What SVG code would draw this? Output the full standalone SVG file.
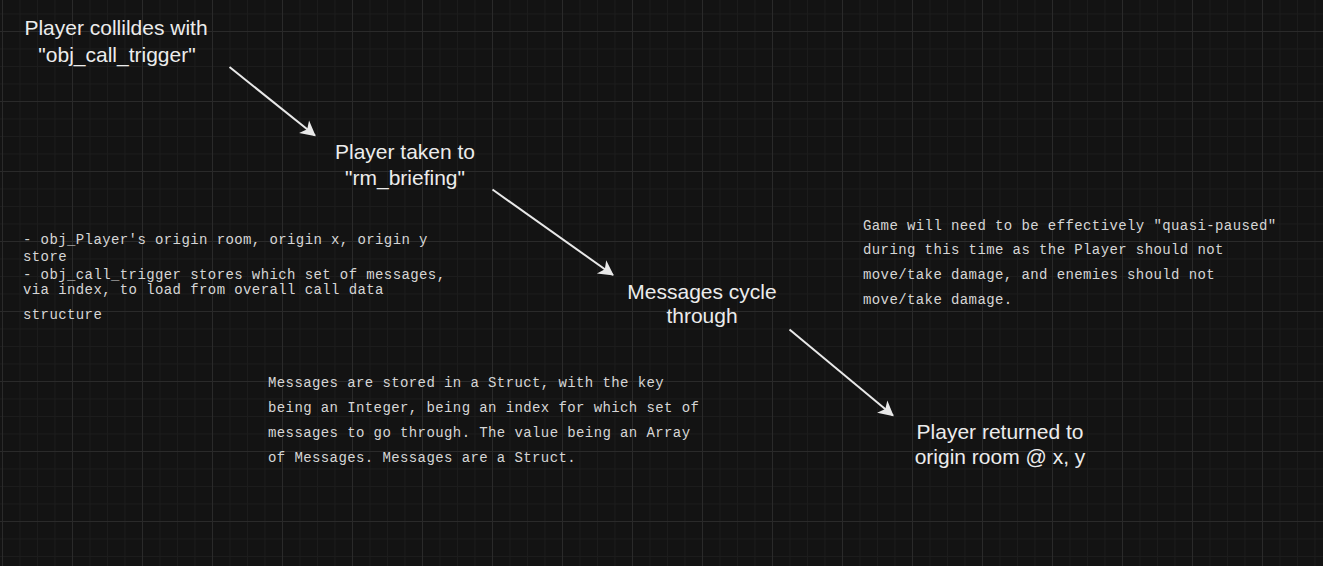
<svg xmlns="http://www.w3.org/2000/svg" width="1323" height="566" viewBox="0 0 1323 566">
<defs>
<pattern id="grid" patternUnits="userSpaceOnUse" x="2" y="31" width="70" height="70">
<path d="M18 0V70M35.5 0V70M53 0V70M0 18H70M0 35.5H70M0 53H70" stroke="#1c1c1c" stroke-width="1" fill="none"/>
<path d="M0.5 0V70M0 0.5H70" stroke="#2a2a2a" stroke-width="1" fill="none"/>
</pattern>
<marker id="arrow" markerUnits="userSpaceOnUse" markerWidth="30" markerHeight="30" refX="0" refY="0" viewBox="-20 -15 30 30" orient="auto" overflow="visible">
<path d="M1,0 L-14,-8 L-10,0 L-14,8 Z" fill="#e8e8e8"/>
</marker>
<style>
.lbl{font-family:"Liberation Sans",Arial,sans-serif;font-size:21px;fill:#ececec;text-anchor:middle}
.mono{font-family:"Liberation Mono","Courier New",monospace;font-size:14px;letter-spacing:0.4px;fill:#d6d6d6}
.conn{stroke:#e8e8e8;stroke-width:2;fill:none;marker-end:url(#arrow)}
</style>
</defs>
<rect width="1323" height="566" fill="#131313"/>
<rect width="1323" height="566" fill="url(#grid)"/>
<g id="connectors">
<line class="conn" x1="229.5" y1="67" x2="315" y2="135.5"/>
<line class="conn" x1="492.5" y1="189.5" x2="613" y2="275"/>
<line class="conn" x1="789.5" y1="329.5" x2="893" y2="415.5"/>
</g>
<g id="node-collide">
<text class="lbl" x="116" y="35">Player collildes with</text>
<text class="lbl" x="117" y="62">"obj_call_trigger"</text>
</g>
<g id="node-taken">
<text class="lbl" x="405" y="158.5">Player taken to</text>
<text class="lbl" x="405" y="185">"rm_briefing"</text>
</g>
<g id="node-cycle">
<text class="lbl" x="702" y="298.5">Messages cycle</text>
<text class="lbl" x="702" y="323">through</text>
</g>
<g id="node-returned">
<text class="lbl" x="1000" y="438.5">Player returned to</text>
<text class="lbl" x="1000" y="463.5">origin room @ x, y</text>
</g>
<g id="note-store">
<text class="mono" x="23" y="244">- obj_Player's origin room, origin x, origin y</text>
<text class="mono" x="23" y="260.5">store</text>
<text class="mono" x="23" y="278.5">- obj_call_trigger stores which set of messages,</text>
<text class="mono" x="23" y="293.5">via index, to load from overall call data</text>
<text class="mono" x="23" y="319">structure</text>
</g>
<g id="note-pause">
<text class="mono" x="863" y="229.5">Game will need to be effectively "quasi-paused"</text>
<text class="mono" x="863" y="253.5">during this time as the Player should not</text>
<text class="mono" x="863" y="279">move/take damage, and enemies should not</text>
<text class="mono" x="863" y="304">move/take damage.</text>
</g>
<g id="note-struct">
<text class="mono" x="268" y="386.5">Messages are stored in a Struct, with the key</text>
<text class="mono" x="268" y="411.5">being an Integer, being an index for which set of</text>
<text class="mono" x="268" y="436.5">messages to go through. The value being an Array</text>
<text class="mono" x="268" y="461.5">of Messages. Messages are a Struct.</text>
</g>
</svg>
